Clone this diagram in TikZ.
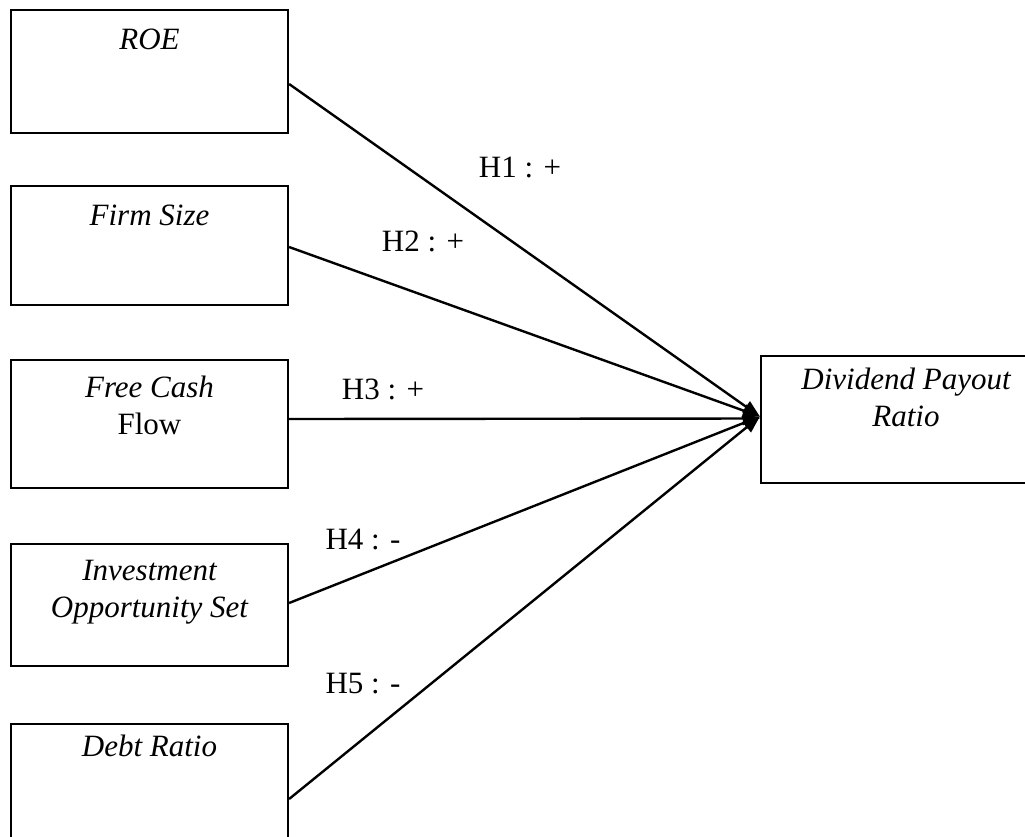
\documentclass[tikz,border=0pt]{standalone}
\usepackage{fontspec}
\setmainfont{Liberation Serif}
\usetikzlibrary{arrows.meta}
\begin{document}
\begin{tikzpicture}[x=1pt,y=-1pt,
  box/.style={draw, line width=2.2pt, rectangle, inner sep=0pt},
  txt/.style={inner sep=0pt, align=center, font=\fontsize{31}{37}\selectfont},
  hyp/.style={inner sep=0pt, font=\fontsize{31}{37}\selectfont},
  arr/.style={line width=2.4pt, -{Triangle[length=17pt,width=13pt]}}]
\useasboundingbox (0,0) rectangle (1025,836);
\clip (0,0) rectangle (1025,836);
% boxes
\node[box, minimum width=277pt, minimum height=123pt] (roe) at (149.5,71.5) {};
\node[box, minimum width=277pt, minimum height=119pt] (fs) at (149.5,245.5) {};
\node[box, minimum width=277pt, minimum height=128pt] (fcf) at (149.5,424) {};
\node[box, minimum width=277pt, minimum height=122pt] (ios) at (149.5,605) {};
\node[box, minimum width=277pt, minimum height=140pt] (dr) at (149.5,794) {};
\node[box, minimum width=290pt, minimum height=127pt] (dpr) at (906,419.5) {};
% texts
\node[txt, anchor=north] (roet) at ([yshift=-20pt]roe.north) {\itshape ROE};
\node[txt, anchor=north] (fst) at ([yshift=-20pt]fs.north) {\itshape Firm Size};
\node[txt, anchor=north] (fcft) at ([yshift=-17pt]fcf.north) {\itshape Free Cash\\ Flow};
\node[txt, anchor=north] (iost) at ([yshift=-17pt]ios.north) {\itshape Investment\\ \itshape Opportunity Set};
\node[txt, anchor=north] (drt) at ([yshift=-12pt]dr.north) {\itshape Debt Ratio};
\node[txt, anchor=north] (dprt) at ([yshift=-13pt]dpr.north) {\itshape Dividend Payout\\ \itshape Ratio};
% arrows
\coordinate (tip) at ([yshift=3pt]dpr.west);
\draw[arr] ([yshift=-12.5pt]roe.east) -- (tip);
\draw[arr] ([yshift=-1.5pt]fs.east) -- (tip);
\draw[arr] ([yshift=5pt]fcf.east) -- ([yshift=1pt]dpr.west);
\draw[arr] ([yshift=2pt]ios.east) -- (tip);
\draw[arr] ([yshift=-5pt]dr.east) -- (tip);
% labels
\node[hyp] (h1) at (520,167) {H1 : +};
\node[hyp] (h2) at (423,241) {H2 : +};
\node[hyp] (h3) at (383,389) {H3 : +};
\node[hyp] (h4) at (363,540) {H4 : -};
\node[hyp] (h5) at (363,684) {H5 : -};
\end{tikzpicture}
\end{document}
